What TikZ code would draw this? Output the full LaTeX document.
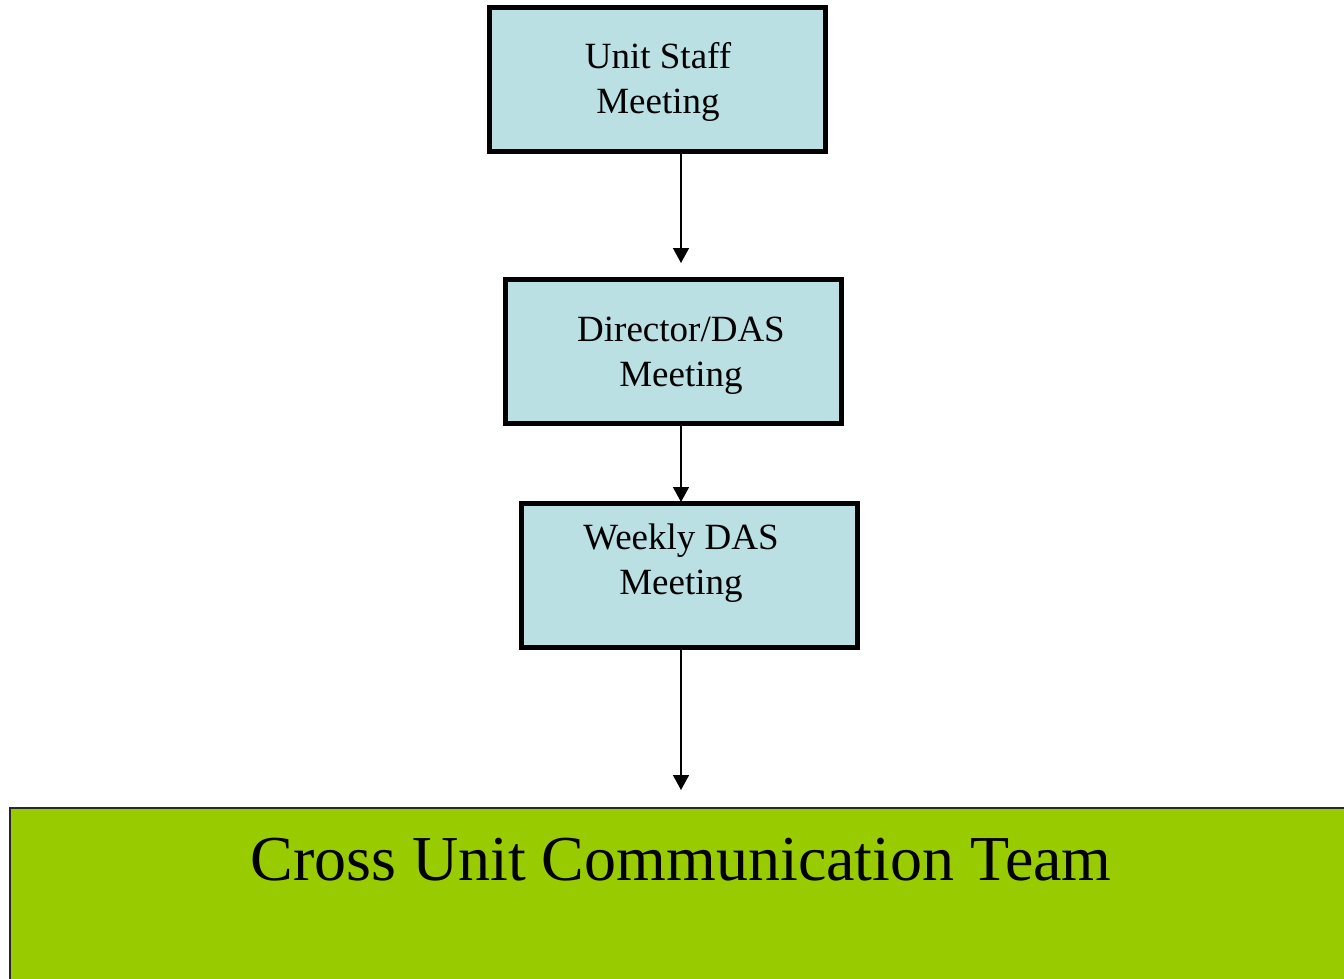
\documentclass[tikz,border=0pt]{standalone}
\usepackage{fontspec}
\setmainfont{Liberation Serif}
\usetikzlibrary{arrows.meta}
\definecolor{boxblue}{RGB}{186,224,228}
\definecolor{teamgreen}{RGB}{153,204,0}
\definecolor{edgegray}{RGB}{40,40,40}
\tikzset{
  meetbox/.style={draw=black, line width=5pt, fill=boxblue, minimum width=336pt, minimum height=144pt, inner sep=0pt},
  meettext/.style={anchor=base, align=center, font=\fontsize{37}{45}\selectfont, inner sep=0pt},
  flow/.style={line width=1.5pt, -{Triangle[width=16pt,length=15pt]}},
  teambox/.style={draw=edgegray, line width=1.5pt, fill=teamgreen, anchor=north west, minimum width=1400pt, minimum height=200pt, inner sep=0pt},
  teamtext/.style={anchor=base, font=\fontsize{64}{74}\selectfont, inner sep=0pt}
}
\begin{document}
\begin{tikzpicture}[x=1pt,y=-1pt]
\useasboundingbox (0,0) rectangle (1344,978);
\node[meetbox] (b1) at (657.5,79.5) {};
\node[meetbox] (b2) at (673,351.5) {};
\node[meetbox] (b3) at (689,575.5) {};
\node[teambox] (team) at (9,807) {};
\node[meettext] (t1) at (658,113) {Unit Staff\\Meeting};
\node[meettext] (t2) at (681,386) {Director/DAS\\Meeting};
\node[meettext] (t3) at (681,594) {Weekly DAS\\Meeting};
\node[teamtext] (tt) at (681,880) {Cross Unit Communication Team};
\coordinate (ax) at (681,0);
\coordinate (e1) at (681,263);
\coordinate (e2) at (681,502);
\coordinate (e3) at (681,790);
\draw[flow] (b1.south -| ax) -- (e1);
\draw[flow] (b2.south -| ax) -- (e2);
\draw[flow] (b3.south -| ax) -- (e3);
\end{tikzpicture}
\end{document}
